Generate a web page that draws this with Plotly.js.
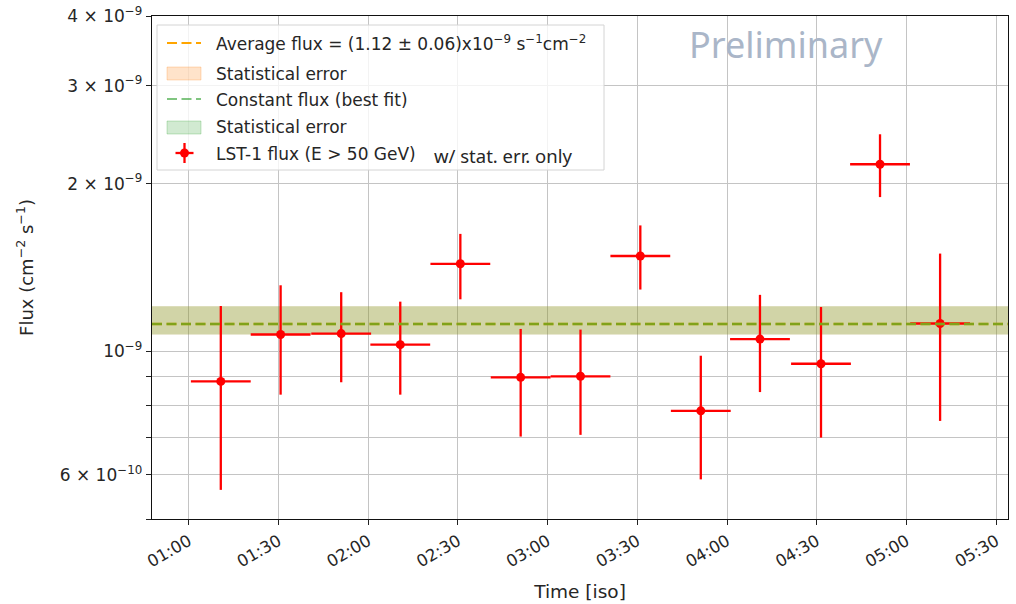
<!DOCTYPE html>
<html>
<head>
<meta charset="utf-8">
<script src="https://cdn.plot.ly/plotly-3.0.1.min.js"></script>
<style>html,body{margin:0;padding:0;background:#fff;}#chart{width:1016px;height:604px;}</style>
</head>
<body>
<div id="chart"></div>
<script>
// ---- data ----
const day = '2021-01-01 ';
const binCenters = ['01:10:45','01:30:45','01:51:00','02:10:45','02:30:50','02:51:00','03:11:00','03:31:00','03:51:13','04:11:00','04:31:24','04:51:08','05:11:13'];
const binHalfWidthMin = [10,10,10,10,10,10,10,10,10,10,10,10,10];
const flux     = [0.883e-9,1.072e-9,1.076e-9,1.028e-9,1.436e-9,0.898e-9,0.902e-9,1.483e-9,0.782e-9,1.052e-9,0.950e-9,2.167e-9,1.122e-9];
const fluxHigh = [1.206e-9,1.314e-9,1.277e-9,1.228e-9,1.625e-9,1.097e-9,1.094e-9,1.683e-9,0.982e-9,1.263e-9,1.201e-9,2.453e-9,1.498e-9];
const fluxLow  = [0.564e-9,0.836e-9,0.880e-9,0.836e-9,1.240e-9,0.703e-9,0.708e-9,1.291e-9,0.589e-9,0.845e-9,0.700e-9,1.892e-9,0.750e-9];
const avgFlux = 1.12e-9;
const avgBand = [1.072e-9, 1.205e-9];
const fitFlux = 1.12e-9;
const fitBand = [1.072e-9, 1.205e-9];
const xRange = ['00:47:45','05:33:55'];
const yTickVals = [5e-10,6e-10,7e-10,8e-10,9e-10,1e-9,2e-9,3e-9,4e-9];
const yTickText = ['','6 × 10<sup>−10</sup>','','','','10<sup>−9</sup>','2 × 10<sup>−9</sup>','3 × 10<sup>−9</sup>','4 × 10<sup>−9</sup>'];
const xTickLabels = ['01:00','01:30','02:00','02:30','03:00','03:30','04:00','04:30','05:00','05:30'];

// ---- derived ----
const toMs = t => new Date(day.trim() + 'T' + t + 'Z').getTime();
const fmt = ms => new Date(ms).toISOString().replace('T',' ').replace('Z','');
const xs = binCenters.map(t => day + t);
const xr = xRange.map(t => day + t);
const xTickVals = xTickLabels.map(t => day + t);
const errYp = flux.map((v,i) => fluxHigh[i] - v);
const errYm = flux.map((v,i) => v - fluxLow[i]);
// horizontal (time-bin) error bars as line segments
const hbX = [], hbY = [];
binCenters.forEach((t,i) => {
  const c = toMs(t), hw = binHalfWidthMin[i]*60000;
  hbX.push(fmt(c-hw), fmt(c+hw), null);
  hbY.push(flux[i], flux[i], null);
});

const ORANGE = 'rgb(255,165,0)';
const GREEN = 'rgb(44,160,44)';
const ORANGE_FILL = 'rgba(255,127,14,0.22)';
const GREEN_FILL = 'rgba(44,160,44,0.22)';

function band(b, fill){
  return {x:[xr[0],xr[1],xr[1],xr[0],xr[0]], y:[b[0],b[0],b[1],b[1],b[0]], mode:'lines', fill:'toself',
          fillcolor:fill, line:{width:0}, hoverinfo:'skip', showlegend:false};
}
const traces = [
  band(avgBand, ORANGE_FILL),
  band(fitBand, GREEN_FILL),
  {x:hbX, y:hbY, mode:'lines', line:{color:'red', width:2.3}, connectgaps:false, showlegend:false},
  {x:xs, y:flux, mode:'markers', type:'scatter', showlegend:false,
   marker:{color:'red', size:9},
   error_y:{type:'data', symmetric:false, array:errYp, arrayminus:errYm, color:'red', thickness:2.3, width:0}},
  {x:xr, y:[avgFlux,avgFlux], mode:'lines', line:{color:ORANGE, width:2.5, dash:'10px,4.5px'}, showlegend:false},
  {x:xr, y:[fitFlux,fitFlux], mode:'lines', opacity:0.6, line:{color:GREEN, width:2.5, dash:'10px,4.5px'}, showlegend:false}
];

// pixel -> paper helpers for the hand-drawn legend box
const L=152, T=16, W=856, H=503;
const px = x => (x - L)/W;
const py = y => (T + H - y)/H;

const FONT = 'DejaVu Sans, sans-serif';
const TXT = '#262626';
const shapes = [
  {type:'rect', xref:'paper', yref:'paper', x0:px(157), x1:px(604), y0:py(170), y1:py(25),
   fillcolor:'rgba(255,255,255,0.8)', line:{color:'#d4d4d4', width:1}},
  {type:'line', xref:'paper', yref:'paper', x0:px(167), x1:px(201), y0:py(43), y1:py(43), line:{color:ORANGE, width:2.2, dash:'10px,4.5px'}},
  {type:'rect', xref:'paper', yref:'paper', x0:px(167), x1:px(201), y0:py(80), y1:py(67), fillcolor:ORANGE_FILL, line:{color:'rgba(255,127,14,0.25)', width:1}},
  {type:'line', xref:'paper', yref:'paper', x0:px(167), x1:px(201), y0:py(99), y1:py(99), opacity:0.6, line:{color:GREEN, width:2.2, dash:'10px,4.5px'}},
  {type:'rect', xref:'paper', yref:'paper', x0:px(167), x1:px(201), y0:py(134), y1:py(121), fillcolor:GREEN_FILL, line:{color:'rgba(44,160,44,0.25)', width:1}},
  {type:'line', xref:'paper', yref:'paper', x0:px(175.5), x1:px(193.5), y0:py(153), y1:py(153), line:{color:'red', width:2.3}},
  {type:'line', xref:'paper', yref:'paper', x0:px(184.5), x1:px(184.5), y0:py(143), y1:py(163), line:{color:'red', width:2.3}},
  {type:'circle', xref:'paper', yref:'paper', xsizemode:'pixel', ysizemode:'pixel', xanchor:px(184.5), yanchor:py(153),
   x0:-4.5, x1:4.5, y0:-4.5, y1:4.5, fillcolor:'red', line:{width:0}}
];
function legText(txt, x, y, font){
  return {xref:'paper', yref:'paper', x:px(x), y:py(y), xanchor:'left', yanchor:'middle', showarrow:false,
          text:txt, font:font || {family:FONT, size:17, color:TXT}};
}
const annotations = [
  legText('Average flux = (1.12 ± 0.06)x10<sup>−9</sup> s<sup>−1</sup>cm<sup>−2</sup>', 214, 43),
  legText('Statistical error', 214, 74),
  legText('Constant flux (best fit)', 214, 100),
  legText('Statistical error', 214, 127),
  legText('LST-1 flux (E > 50 GeV)', 214, 154),
  legText('w/ stat. err. only', 432, 155, {family:'Noto Sans, sans-serif', size:18.5, color:TXT}),
  {xref:'paper', yref:'paper', x:px(786), y:py(44), xanchor:'center', yanchor:'middle', showarrow:false,
   text:'Preliminary', font:{family:'Noto Sans, sans-serif', size:36, color:'#aab6c8'}}
];

const layout = {
  width:1016, height:604,
  margin:{l:L, r:1016-L-W, t:T, b:604-T-H, pad:0},
  paper_bgcolor:'white', plot_bgcolor:'white',
  showlegend:false,
  font:{family:FONT, size:17, color:TXT},
  xaxis:{type:'date', range:xr, tickmode:'array', tickvals:xTickVals, ticktext:xTickLabels, tickangle:-30,
         ticks:'outside', ticklen:5, tickwidth:1, tickcolor:'#222',
         showgrid:true, gridcolor:'#c4c4c4', gridwidth:1, zeroline:false,
         showline:true, mirror:true, linecolor:'#111', linewidth:1.3,
         tickfont:{family:FONT, size:16.5, color:TXT},
         title:{text:'Time [iso]', font:{family:FONT, size:18.5, color:TXT}, standoff:14}},
  yaxis:{type:'log', range:[Math.log10(5e-10), Math.log10(4e-9)], tickmode:'array', tickvals:yTickVals, ticktext:yTickText,
         ticks:'outside', ticklen:5, tickwidth:1, tickcolor:'#222',
         showgrid:true, gridcolor:'#c4c4c4', gridwidth:1, zeroline:false,
         showline:true, mirror:true, linecolor:'#111', linewidth:1.3,
         tickfont:{family:FONT, size:17, color:TXT},
         title:{text:'Flux (cm<sup>−2</sup> s<sup>−1</sup>)', font:{family:FONT, size:18, color:TXT}, standoff:21}},
  shapes:shapes,
  annotations:annotations
};

Plotly.newPlot('chart', traces, layout, {displayModeBar:false, staticPlot:true});
</script>
</body>
</html>
